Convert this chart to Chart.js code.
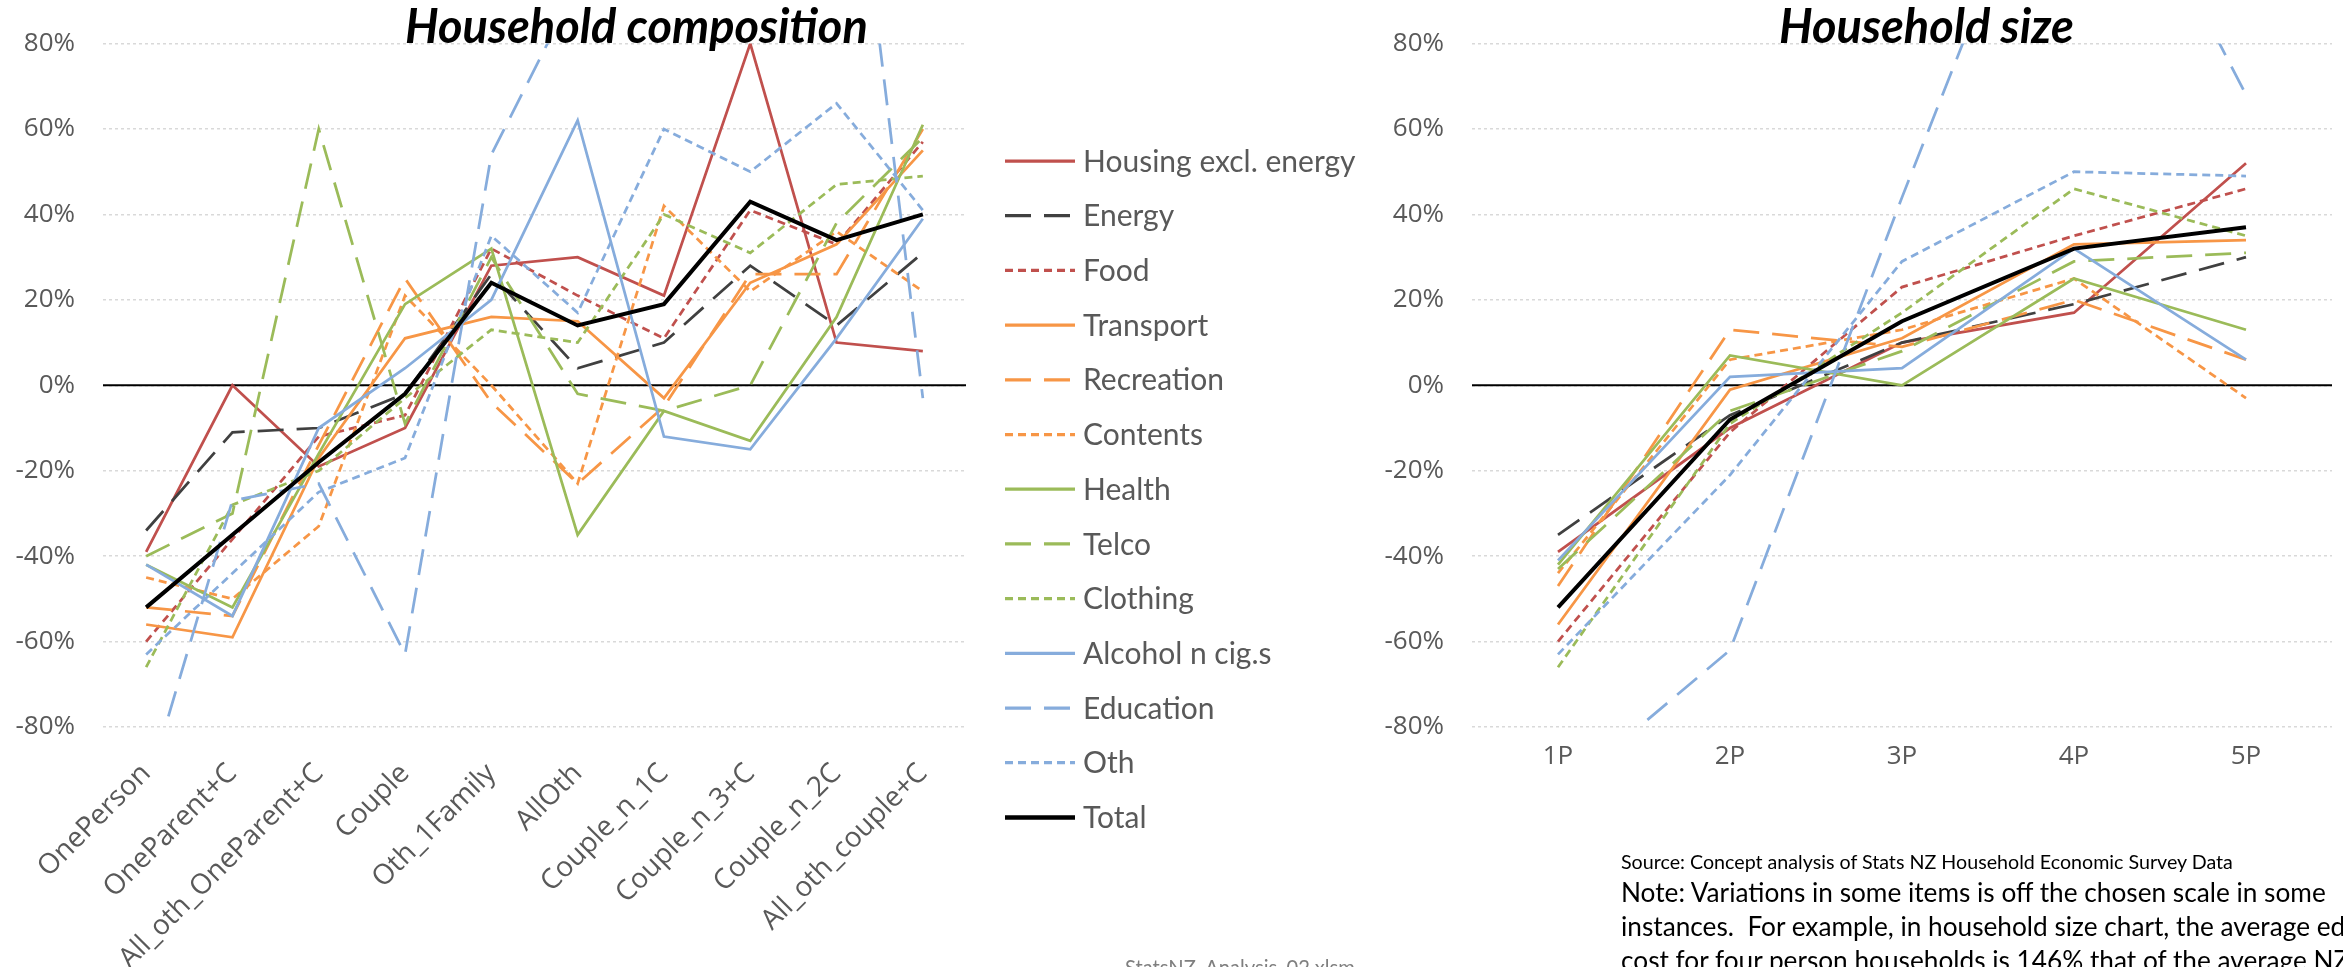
<!DOCTYPE html>
<html>
<head>
<meta charset="utf-8">
<script src="https://cdn.jsdelivr.net/npm/chart.js@4.4.1/dist/chart.umd.min.js"></script>
<style>
  html, body { margin: 0; padding: 0; background: #fff; }
  #page { position: relative; width: 2343px; height: 967px; overflow: hidden; background: #fff; }
  .holder { position: absolute; top: 0; }
  .txt { position: absolute; white-space: pre; line-height: 1; font-family: Lato, sans-serif; }
  .ttl { font-weight: bold; font-style: italic; color: #000; }
  .src { color: #000; }
  .file { color: #7f7f7f; }
</style>
</head>
<body>
<div id="page">
  <div class="holder" style="left:0px"><canvas id="compChart" width="1400" height="967"></canvas></div>
  <div class="holder" style="left:1290px"><canvas id="sizeChart" width="1053" height="967"></canvas></div>

  <div class="txt ttl" id="titleComp">Household composition</div>
  <div class="txt ttl" id="titleSize">Household size</div>
  <div class="txt src" id="srcLine">Source: Concept analysis of Stats NZ Household Economic Survey Data</div>
  <div class="txt src" id="note1">Note: Variations in some items is off the chosen scale in some</div>
  <div class="txt src" id="note2">instances.  For example, in household size chart, the average ed</div>
  <div class="txt src" id="note3">cost for four person households is 146% that of the average NZ</div>
  <div class="txt file" id="fileName">StatsNZ_Analysis_02.xlsm</div>
</div>

<script>
// ---- data: household composition (index vs average household, %) ----
const compCats = ["OnePerson", "OneParent+C", "All_oth_OneParent+C", "Couple", "Oth_1Family",
  "AllOth", "Couple_n_1C", "Couple_n_3+C", "Couple_n_2C", "All_oth_couple+C"];

const compHousing    = [-39,   0, -19, -10, 28,  30,  21,  80,  10,  8];
const compEnergy     = [-34, -11, -10,  -2, 26,   4,  10,  28,  14, 31];
const compFood       = [-60, -36, -12,  -7, 32,  21,  11,  41,  33, 57];
const compTransport  = [-56, -59, -17,  11, 16,  15,  -3,  24,  33, 55];
const compRecreation = [-52, -54, -14,  25, -4, -23,  -5,  26,  26, 60];
const compContents   = [-45, -50, -33,  21,  0, -23,  42,  22,  36, 22];
const compHealth     = [-42, -52, -16,  19, 32, -35,  -6, -13,  16, 61];
const compTelco      = [-40, -30,  60,  -9, 30,  -2,  -6,   0,  38, 58];
const compClothing   = [-66, -28, -20,  -3, 13,  10,  40,  31,  47, 49];
const compAlcohol    = [-42, -54, -10,   4, 20,  62, -12, -15,  11, 39];
const compEducation  = [-95, -27, -23, -63, 54,  94, 120, 140, 163, -3];
const compOth        = [-63, -44, -25, -17, 35,  17,  60,  50,  66, 41];
const compTotal      = [-52, -35, -18,  -2, 24,  14,  19,  43,  34, 40];

// ---- data: household size ----
const sizeCats = ["1P", "2P", "3P", "4P", "5P"];

const sizeHousing    = [-39, -10, 10,  17, 52];
const sizeEnergy     = [-35,  -7, 10,  19, 30];
const sizeFood       = [-60, -11, 23,  35, 46];
const sizeTransport  = [-56,  -1, 11,  33, 34];
const sizeRecreation = [-47,  13,  9,  20,  6];
const sizeContents   = [-44,   6, 13,  25, -3];
const sizeHealth     = [-42,   7,  0,  25, 13];
const sizeTelco      = [-43,  -6,  8,  29, 31];
const sizeClothing   = [-66,  -9, 17,  46, 35];
const sizeAlcohol    = [-41,   2,  4,  32,  6];
const sizeEducation  = [-96, -62, 44, 146, 68];
const sizeOth        = [-63, -21, 29,  50, 49];
const sizeTotal      = [-52,  -8, 15,  32, 37];

const yTicks = [-80, -60, -40, -20, 0, 20, 40, 60, 80];

// ---- styles ----
const RED = "#c0504d", DARK = "#404040", ORANGE = "#f79646", GREEN = "#9bbb59", BLUE = "#86acdc";
const LONG = [26, 13], SHORT = [8, 5], SOLID = [];

const seriesStyle = [
  { label: "Housing excl. energy", color: RED,    dash: SOLID, width: 2.75 },
  { label: "Energy",               color: DARK,   dash: LONG,  width: 2.75 },
  { label: "Food",                 color: RED,    dash: SHORT, width: 2.75 },
  { label: "Transport",            color: ORANGE, dash: SOLID, width: 2.75 },
  { label: "Recreation",           color: ORANGE, dash: LONG,  width: 2.75 },
  { label: "Contents",             color: ORANGE, dash: SHORT, width: 2.75 },
  { label: "Health",               color: GREEN,  dash: SOLID, width: 2.75 },
  { label: "Telco",                color: GREEN,  dash: LONG,  width: 2.75 },
  { label: "Clothing",             color: GREEN,  dash: SHORT, width: 2.75 },
  { label: "Alcohol n cig.s",      color: BLUE,   dash: SOLID, width: 2.75 },
  { label: "Education",            color: BLUE,   dash: LONG,  width: 2.75 },
  { label: "Oth",                  color: BLUE,   dash: SHORT, width: 2.75 },
  { label: "Total",                color: "#000", dash: SOLID, width: 4 }
];

const compSeries = [compHousing, compEnergy, compFood, compTransport, compRecreation, compContents,
  compHealth, compTelco, compClothing, compAlcohol, compEducation, compOth, compTotal];
const sizeSeries = [sizeHousing, sizeEnergy, sizeFood, sizeTransport, sizeRecreation, sizeContents,
  sizeHealth, sizeTelco, sizeClothing, sizeAlcohol, sizeEducation, sizeOth, sizeTotal];

const AXIS_GREY = "#595959";
Chart.defaults.font.family = "'Open Sans', sans-serif";
Chart.defaults.color = AXIS_GREY;
Chart.defaults.animation = false;

function buildDatasets(values) {
  return values.map((vals, i) => ({
    label: seriesStyle[i].label,
    data: vals,
    borderColor: seriesStyle[i].color,
    backgroundColor: seriesStyle[i].color,
    borderDash: seriesStyle[i].dash,
    borderWidth: seriesStyle[i].width,
    pointRadius: 0,
    tension: 0,
    fill: false,
    order: -i   // later series on top, like excel
  }));
}

// black 0% line across the plot
const zeroLine = {
  id: "zeroLine",
  beforeDatasetsDraw(chart) {
    const { ctx, chartArea: a, scales } = chart;
    const py = scales.y.getPixelForValue(0);
    ctx.save();
    ctx.strokeStyle = "#000";
    ctx.lineWidth = 2;
    ctx.beginPath();
    ctx.moveTo(a.left, py);
    ctx.lineTo(a.right, py);
    ctx.stroke();
    ctx.restore();
  }
};

// legend drawn to the right of the plot
const sideLegend = {
  id: "sideLegend",
  afterDraw(chart, args, opts) {
    if (!opts.show) return;
    const ctx = chart.ctx;
    ctx.save();
    ctx.font = opts.fontSize + "px Lato, sans-serif";
    ctx.textBaseline = "middle";
    ctx.fillStyle = AXIS_GREY;
    chart.data.datasets.forEach((ds, i) => {
      const y = opts.top + i * opts.step;
      ctx.strokeStyle = ds.borderColor;
      ctx.lineWidth = ds.borderWidth + 0.5;
      ctx.setLineDash(ds.borderDash);
      ctx.beginPath();
      ctx.moveTo(opts.x, y);
      ctx.lineTo(opts.x + opts.len, y);
      ctx.stroke();
      ctx.setLineDash([]);
      ctx.fillText(ds.label, opts.x + opts.len + opts.gap, y + 1);
    });
    ctx.restore();
  }
};

function makeChart(canvasId, cats, values, box, rotate, legendOpts) {
  return new Chart(document.getElementById(canvasId), {
    type: "line",
    data: { labels: cats, datasets: buildDatasets(values) },
    options: {
      responsive: false,
      devicePixelRatio: 1,
      layout: { padding: { left: 0, top: box.top, right: box.right, bottom: 0 } },
      plugins: {
        legend: { display: false },
        tooltip: { enabled: false },
        sideLegend: legendOpts
      },
      scales: {
        x: {
          type: "category",
          offset: true,
          grid: { display: false, drawTicks: false },
          border: { display: false },
          ticks: {
            autoSkip: false,
            maxRotation: rotate,
            minRotation: rotate,
            padding: box.xPad,
            font: { size: box.xFont },
            color: AXIS_GREY
          },
          afterFit: (s) => { s.height = box.xHeight; }
        },
        y: {
          min: -80,
          max: 80,
          afterBuildTicks: (s) => { s.ticks = yTicks.map(v => ({ value: v })); },
          grid: { color: "#d9d9d9", lineWidth: 1.5, drawTicks: false },
          border: { display: false, dash: [3, 3] },
          ticks: {
            padding: 28,
            font: { size: 26 },
            color: AXIS_GREY,
            callback: (v) => v + "%"
          },
          afterFit: (s) => { s.width = box.yWidth; }
        }
      }
    },
    plugins: [zeroLine, sideLegend]
  });
}

makeChart("compChart", compCats, compSeries,
  { top: 23, right: 1400 - 966, yWidth: 103, xHeight: 240, xPad: 30, xFont: 28 }, 45,
  { show: true, x: 1005, len: 70, gap: 8, top: 161, step: 54.7, fontSize: 30 });

makeChart("sizeChart", sizeCats, sizeSeries,
  { top: 23, right: 1053 - (2332 - 1290), yWidth: 1472 - 1290, xHeight: 240, xPad: 14, xFont: 26 }, 0,
  { show: false });

// ---- text placement: fit width, then set baseline ----
function place(id, left, baseline, width, size) {
  const el = document.getElementById(id);
  el.style.left = left + "px";
  el.style.fontSize = size + "px";
  if (width) {
    const w = el.getBoundingClientRect().width;
    size = size * width / w;
    el.style.fontSize = size + "px";
  }
  el.style.top = (baseline - 0.887 * size) + "px";
  return size;
}

const ttlSize = place("titleComp", 405, 44, 463, 40);
place("titleSize", 1779, 44, 0, ttlSize);
place("srcLine", 1621, 869, 612, 21);
const noteSize = place("note1", 1621, 902, 705, 25);
place("note2", 1621, 936, 0, noteSize);
place("note3", 1621, 970, 0, noteSize);
place("fileName", 1125, 975, 230, 20);
</script>
</body>
</html>
